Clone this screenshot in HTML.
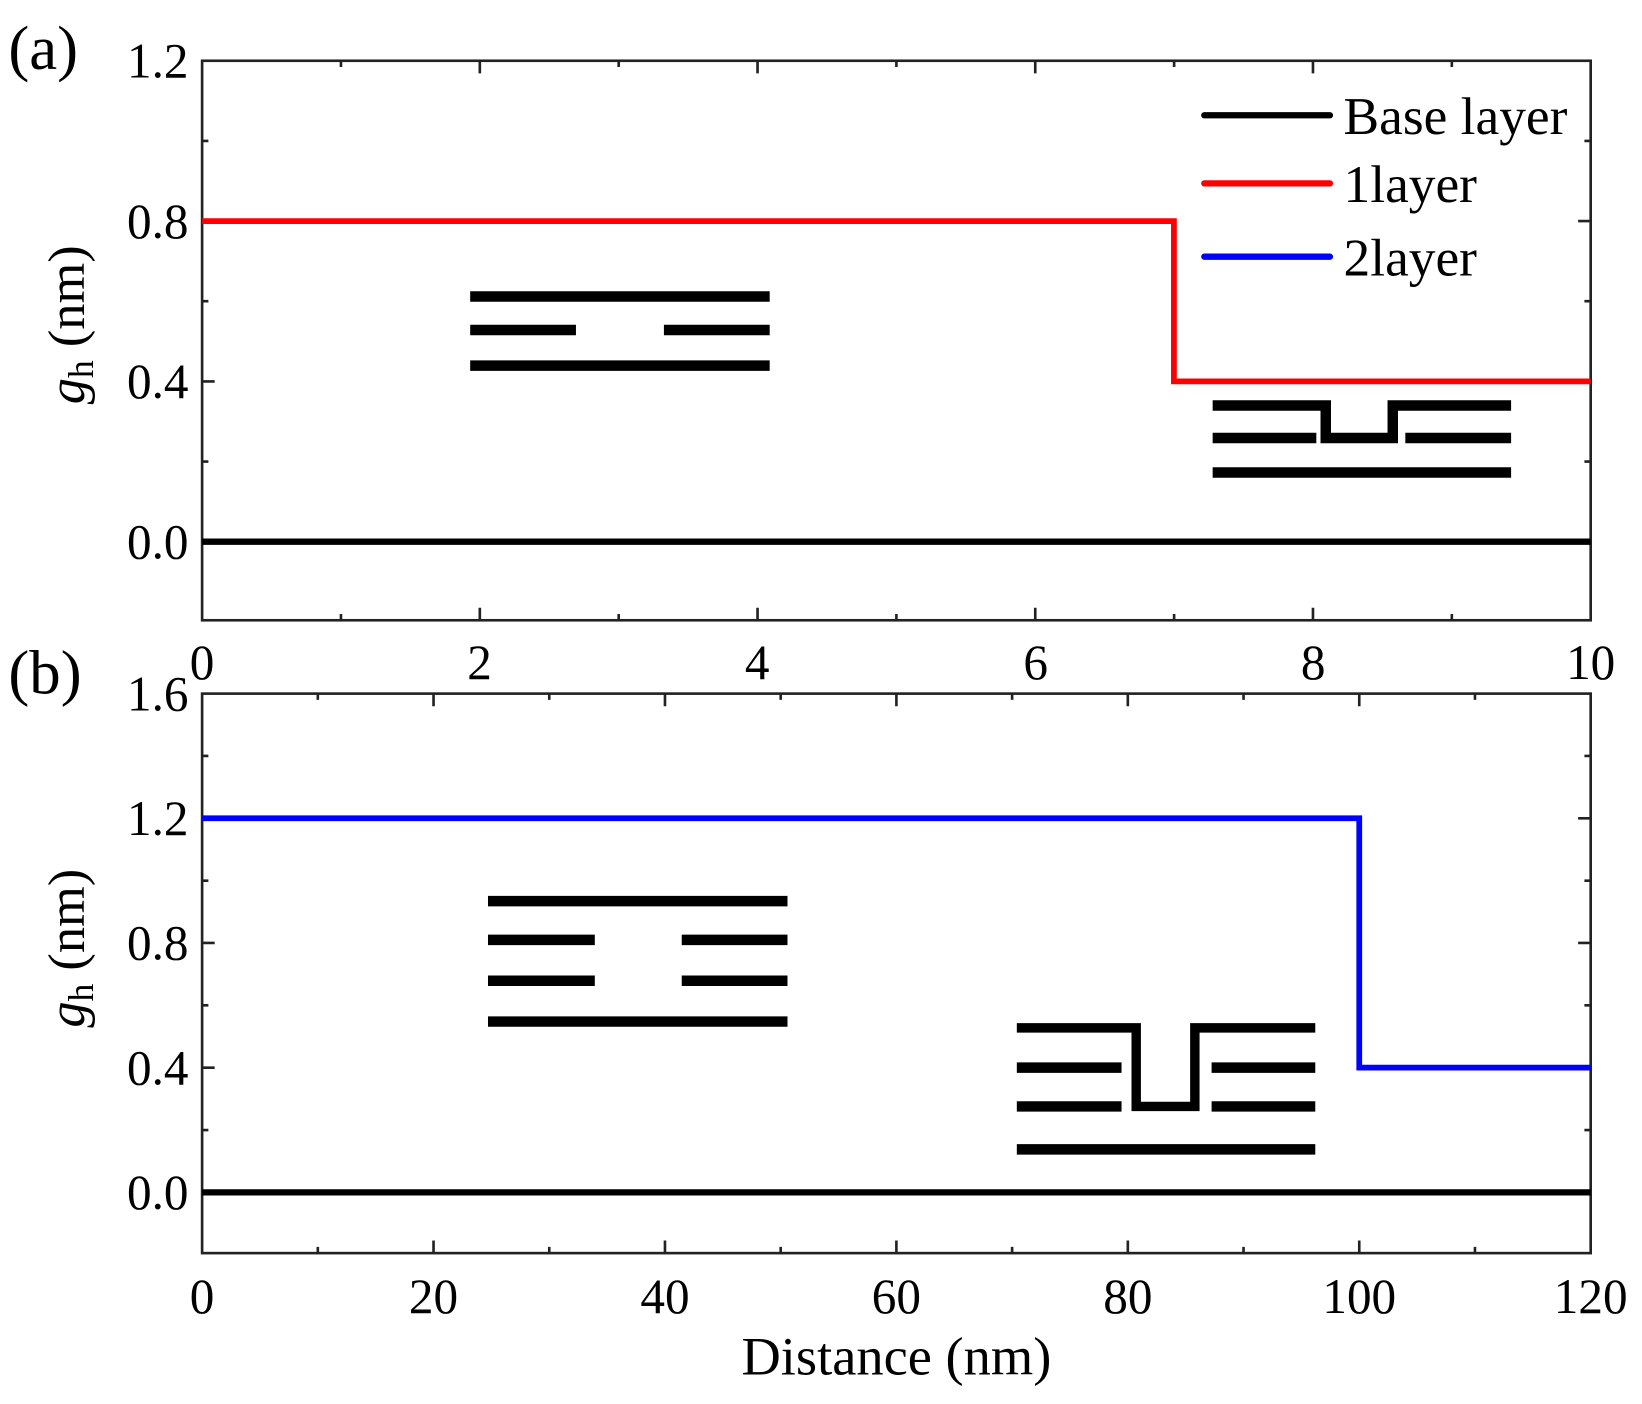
<!DOCTYPE html>
<html><head><meta charset="utf-8"><style>
html,body{margin:0;padding:0;background:#fff;}
svg{display:block;}
text{font-family:"Liberation Serif",serif;fill:#000;}
</style></head><body>
<svg width="1642" height="1404" viewBox="0 0 1568 1340" preserveAspectRatio="none" xmlns="http://www.w3.org/2000/svg">
<rect width="1568" height="1340" fill="#fff"/>
<rect x="193" y="58" width="1326" height="534" stroke="#222" stroke-width="2.5" fill="none"/>
<g stroke="#222" stroke-width="2.5">
<path d="M458.2,592v-12M723.4,592v-12M988.6,592v-12M1253.8,592v-12 M458.2,58v12M723.4,58v12M988.6,58v12M1253.8,58v12
M325.6,592v-6M590.8,592v-6M856,592v-6M1121.2,592v-6M1386.4,592v-6
M325.6,58v6M590.8,58v6M856,58v6M1121.2,58v6M1386.4,58v6"/>
<path d="M193,211h12M193,364h12M193,517h12M1519,211h-12M1519,364h-12M1519,517h-12
M193,134.5h6M193,287.5h6M193,440.5h6M1519,134.5h-6M1519,287.5h-6M1519,440.5h-6"/>
</g>
<g font-size="47" text-anchor="end">
<text x="180" y="74">1.2</text>
<text x="180" y="227">0.8</text>
<text x="180" y="380">0.4</text>
<text x="180" y="533">0.0</text>
</g>
<g font-size="47" text-anchor="middle">
<text x="193" y="648">0</text>
<text x="458" y="648">2</text>
<text x="723" y="648">4</text>
<text x="989" y="648">6</text>
<text x="1254" y="648">8</text>
<text x="1519" y="648">10</text>
</g>
<text x="8" y="66" font-size="60">(a)</text>
<text transform="translate(80,310) rotate(-90)" font-size="50" text-anchor="middle"><tspan font-style="italic">g</tspan><tspan font-size="34" dy="9">h</tspan><tspan dy="-9"> (nm)</tspan></text>
<path d="M193,517H1519" stroke="#000" stroke-width="6"/>
<path d="M193,211H1121V364H1519" stroke="#f00" stroke-width="5.5" fill="none"/>
<path d="M1150,110h120" stroke="#000" stroke-width="6" stroke-linecap="round"/>
<path d="M1150,175h120" stroke="#f00" stroke-width="6" stroke-linecap="round"/>
<path d="M1150,245h120" stroke="#00f" stroke-width="6" stroke-linecap="round"/>
<g font-size="51">
<text x="1283" y="128">Base layer</text>
<text x="1283" y="193">1layer</text>
<text x="1283" y="263">2layer</text>
</g>
<g stroke="#000" stroke-width="10" fill="none">
<path d="M449,283H735M449,315H550M634,315H735M449,349H735"/>
<path d="M1158,387H1266V418H1330V387H1443"/>
<path d="M1158,418H1257M1342,418H1443M1158,451H1443"/>
</g>
<rect x="193" y="662" width="1326" height="534" stroke="#222" stroke-width="2.5" fill="none"/>
<g stroke="#222" stroke-width="2.5">
<path d="M414,1196v-12M635,1196v-12M856,1196v-12M1077,1196v-12M1298,1196v-12
M414,662v12M635,662v12M856,662v12M1077,662v12M1298,662v12
M303.5,1196v-6M524.5,1196v-6M745.5,1196v-6M966.5,1196v-6M1187.5,1196v-6M1408.5,1196v-6
M303.5,662v6M524.5,662v6M745.5,662v6M966.5,662v6M1187.5,662v6M1408.5,662v6"/>
<path d="M193,781h12M193,900h12M193,1019h12M193,1138h12M1519,781h-12M1519,900h-12M1519,1019h-12M1519,1138h-12
M193,721.5h6M193,840.5h6M193,959.5h6M193,1078.5h6M1519,721.5h-6M1519,840.5h-6M1519,959.5h-6M1519,1078.5h-6"/>
</g>
<g font-size="47" text-anchor="end">
<text x="180" y="678">1.6</text>
<text x="180" y="797">1.2</text>
<text x="180" y="916">0.8</text>
<text x="180" y="1035">0.4</text>
<text x="180" y="1154">0.0</text>
</g>
<g font-size="47" text-anchor="middle">
<text x="193" y="1253">0</text>
<text x="414" y="1253">20</text>
<text x="635" y="1253">40</text>
<text x="856" y="1253">60</text>
<text x="1077" y="1253">80</text>
<text x="1298" y="1253">100</text>
<text x="1519" y="1253">120</text>
</g>
<text x="856" y="1312" font-size="52" text-anchor="middle">Distance (nm)</text>
<text x="8" y="662" font-size="60">(b)</text>
<text transform="translate(80,905) rotate(-90)" font-size="50" text-anchor="middle"><tspan font-style="italic">g</tspan><tspan font-size="34" dy="9">h</tspan><tspan dy="-9"> (nm)</tspan></text>
<path d="M193,1138H1519" stroke="#000" stroke-width="6"/>
<path d="M193,781H1298V1019H1519" stroke="#00f" stroke-width="5.5" fill="none"/>
<g stroke="#000" stroke-width="10" fill="none">
<path d="M466,860H752M466,897H568M651,897H752M466,936H568M651,936H752M466,975H752"/>
<path d="M971,981H1085V1056H1141V981H1256" stroke-width="9"/>
<path d="M971,1019H1071M1157,1019H1256M971,1056H1071M1157,1056H1256M971,1097H1256"/>
</g>
</svg>
</body></html>
